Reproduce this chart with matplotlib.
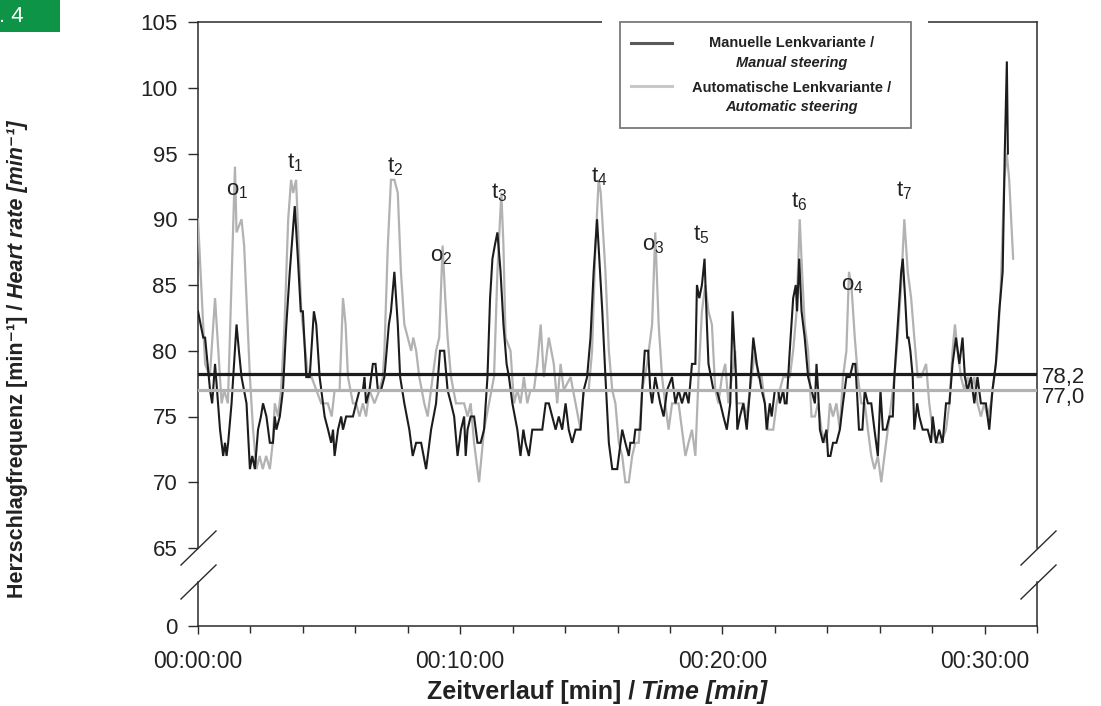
import matplotlib
matplotlib.use("Agg")
import matplotlib.pyplot as plt
from matplotlib.patches import Rectangle
from matplotlib.lines import Line2D
from matplotlib.ticker import MultipleLocator, FuncFormatter
import matplotlib.transforms as mtransforms

plt.rcParams['font.family'] = ['Liberation Sans', 'DejaVu Sans']
plt.rcParams['mathtext.default'] = 'regular'

# ---------------- data ----------------
t_auto = [0, 0.27, 0.45, 0.65, 0.9, 1.0, 1.14, 1.41, 1.47, 1.66, 1.76, 1.98, 2.1, 2.23, 2.35, 2.47,
          2.6, 2.74, 2.85, 2.93, 3.05, 3.17, 3.3, 3.44, 3.55, 3.63, 3.74, 3.94, 4.2, 4.33, 4.7, 4.95,
          5.1, 5.21, 5.4, 5.53, 5.63, 5.72, 5.91, 6.03, 6.16, 6.29, 6.41, 6.54, 6.73, 6.92, 7.05, 7.11,
          7.24, 7.36, 7.49, 7.62, 7.74, 7.87, 8.0, 8.13, 8.21, 8.32, 8.44, 8.63, 8.76, 8.82, 9.08, 9.2,
          9.33, 9.43, 9.52, 9.65, 9.84, 10.15, 10.28, 10.4, 10.53, 10.72, 10.91, 11.1, 11.29, 11.42,
          11.57, 11.65, 11.73, 11.92, 12.05, 12.18, 12.3, 12.43, 12.56, 12.68, 12.81, 12.94, 13.07,
          13.19, 13.38, 13.57, 13.7, 13.83, 13.95, 14.21, 14.4, 14.59, 14.71, 14.9, 15.03, 15.16,
          15.28, 15.36, 15.54, 15.67, 15.8, 15.92, 16.05, 16.18, 16.3, 16.43, 16.56, 16.68, 16.81,
          16.87, 16.94, 17.13, 17.32, 17.44, 17.57, 17.7, 17.82, 17.95, 18.08, 18.21, 18.33, 18.46,
          18.59, 18.71, 18.84, 18.97, 19.09, 19.22, 19.35, 19.47, 19.6, 19.73, 19.85, 19.98, 20.11,
          20.23, 20.36, 20.49, 20.55, 20.67, 20.8, 20.93, 21.05, 21.18, 21.24, 21.37, 21.5, 21.62,
          21.75, 21.94, 22.07, 22.19, 22.32, 22.45, 22.57, 22.7, 22.83, 22.95, 23.04, 23.14, 23.27,
          23.4, 23.53, 23.65, 23.78, 23.91, 24.03, 24.1, 24.22, 24.35, 24.48, 24.6, 24.73, 24.83,
          24.92, 25.05, 25.17, 25.3, 25.43, 25.55, 25.68, 25.8, 25.93, 26.06, 26.18, 26.31, 26.44,
          26.56, 26.69, 26.82, 26.94, 27.07, 27.2, 27.32, 27.45, 27.58, 27.77, 27.89, 28.02, 28.15,
          28.34, 28.53, 28.66, 28.78, 28.87, 28.97, 29.1, 29.23, 29.35, 29.48, 29.61, 29.73, 29.86,
          29.99, 30.11, 30.24, 30.37, 30.49, 30.62, 30.75, 30.85, 30.94, 31.09]
hr_auto = [90, 79, 78, 84, 76, 77, 76, 94, 89, 90, 88, 78, 74, 71, 72, 71,
           72, 71, 73, 76, 75, 77, 82, 90, 93, 92, 93, 83, 78, 78, 76, 76,
           75, 77, 77, 84, 82, 78, 76, 76, 75, 76, 75, 77, 76, 77, 78, 80,
           88, 93, 93, 92, 86, 82, 81, 80, 81, 80, 78, 76, 75, 76, 80, 81,
           88, 84, 81, 78, 76, 76, 75, 76, 73, 70, 74, 76, 78, 86,
           92, 88, 81, 80, 76, 77, 76, 78, 76, 77, 77, 79, 82,
           78, 81, 79, 76, 79, 77, 78, 76, 74, 77, 77, 80, 88,
           93, 92, 86, 80, 77, 76, 73, 72, 70, 70, 72, 73, 73,
           75, 77, 79, 82, 89, 82, 78, 76, 74, 76, 76, 76, 74,
           72, 73, 74, 72, 78, 83, 85, 83, 82, 77, 76, 78, 79,
           76, 78, 80, 76, 76, 76, 75, 77, 79, 80, 78, 78, 76,
           74, 74, 76, 77, 78, 78, 78, 80, 83, 90, 86, 82, 80,
           75, 75, 76, 74, 73, 74, 76, 75, 76, 74, 78, 80, 86,
           85, 81, 78, 76, 76, 74, 72, 71, 72, 70, 72, 74, 76,
           78, 81, 85, 90, 86, 84, 81, 78, 78, 79, 76, 74, 73,
           73, 74, 76, 80, 82, 80, 78, 77, 78, 77, 78, 76, 75,
           76, 75, 76, 78, 80, 85, 93, 95, 93, 87]

t_manual = [0, 0.2, 0.27, 0.46, 0.54, 0.65, 0.84, 0.96, 1.03, 1.09, 1.15, 1.28, 1.47, 1.56, 1.66,
            1.85, 1.98, 2.07, 2.17, 2.29, 2.4, 2.48, 2.61, 2.74, 2.86, 2.93, 2.99, 3.12, 3.24, 3.37,
            3.5, 3.69, 3.81, 3.92, 4.0, 4.13, 4.26, 4.42, 4.51, 4.64, 4.83, 4.96, 5.08, 5.15, 5.21,
            5.34, 5.46, 5.53, 5.65, 5.78, 5.91, 6.03, 6.16, 6.29, 6.35, 6.41, 6.54, 6.67, 6.77, 6.86,
            6.98, 7.11, 7.28, 7.36, 7.49, 7.62, 7.71, 7.87, 8.06, 8.19, 8.32, 8.51, 8.7, 8.89, 9.08,
            9.23, 9.39, 9.52, 9.65, 9.77, 9.9, 10.03, 10.15, 10.21, 10.28, 10.4, 10.53, 10.66, 10.78,
            10.91, 11.04, 11.14, 11.23, 11.32, 11.42, 11.54, 11.65, 11.77, 11.86, 11.99, 12.18, 12.3,
            12.41, 12.49, 12.62, 12.75, 13.13, 13.26, 13.38, 13.51, 13.64, 13.76, 13.89, 14.02, 14.14,
            14.27, 14.4, 14.59, 14.71, 14.84, 14.97, 15.09, 15.22, 15.42, 15.54, 15.67, 15.8, 15.99,
            16.18, 16.3, 16.43, 16.49, 16.62, 16.68, 16.87, 16.94, 17.04, 17.17, 17.25, 17.32, 17.44,
            17.63, 17.76, 17.89, 18.08, 18.21, 18.33, 18.46, 18.59, 18.71, 18.84, 18.97, 19.03, 19.12,
            19.22, 19.32, 19.41, 19.47, 19.66, 19.79, 19.92, 20.04, 20.17, 20.3, 20.39, 20.52, 20.57,
            20.67, 20.8, 20.93, 21.05, 21.18, 21.31, 21.41, 21.5, 21.62, 21.69, 21.81, 21.88, 22.0,
            22.13, 22.19, 22.32, 22.38, 22.45, 22.51, 22.57, 22.7, 22.8, 22.85, 22.93, 23.02, 23.14,
            23.27, 23.4, 23.53, 23.59, 23.65, 23.72, 23.84, 23.97, 24.03, 24.12, 24.22, 24.35, 24.48,
            24.6, 24.73, 24.86, 24.98, 25.07, 25.13, 25.21, 25.34, 25.43, 25.55, 25.68, 25.8, 25.93,
            25.99, 26.03, 26.12, 26.25, 26.37, 26.5, 26.56, 26.69, 26.82, 26.88, 26.97, 27.05, 27.1,
            27.17, 27.26, 27.32, 27.43, 27.51, 27.64, 27.83, 27.96, 28.02, 28.15, 28.27, 28.4, 28.53,
            28.66, 28.78, 28.91, 29.04, 29.16, 29.25, 29.35, 29.48, 29.61, 29.73, 29.86, 30.05, 30.18,
            30.3, 30.43, 30.56, 30.69, 30.77, 30.85, 30.89]
hr_manual = [83, 81, 81, 77, 76, 79, 74, 72, 73, 72, 73, 76, 82, 80, 78,
             76, 71, 72, 71, 74, 75, 76, 75, 73, 73, 75, 74, 75, 77, 82,
             86, 91, 87, 83, 83, 78, 78, 83, 82, 78, 75, 74, 73, 74, 72,
             74, 75, 74, 75, 75, 75, 76, 77, 77, 78, 76, 77, 79, 79, 77,
             77, 78, 82, 83, 86, 82, 78, 76, 74, 72, 73, 73, 71, 74, 76,
             80, 80, 77, 76, 75, 72, 74, 75, 72, 74, 75, 75, 73, 73,
             74, 78, 84, 87, 88, 89, 86, 82, 79, 78, 76, 74, 72,
             74, 73, 72, 74, 74, 76, 76, 75, 74, 75, 74, 76, 74,
             73, 74, 74, 77, 78, 81, 86, 90, 83, 78, 73, 71, 71,
             74, 73, 72, 73, 73, 74, 74, 77, 80, 80, 77, 76, 78,
             76, 75, 77, 78, 76, 77, 76, 77, 76, 79, 79, 85, 84,
             85, 87, 82, 79, 77, 77, 76, 75, 74, 76, 83, 78, 74,
             75, 76, 74, 77, 81, 79, 78, 77, 76, 74, 76, 75, 77,
             77, 76, 77, 76, 76, 78, 80, 84, 85, 83, 87, 83, 81,
             78, 77, 76, 79, 77, 74, 73, 74, 72, 72, 73, 73, 74,
             76, 78, 78, 79, 79, 77, 74, 74, 77, 76, 76, 74, 72,
             75, 77, 74, 74, 75, 75, 78, 82, 86, 87, 84, 81, 81,
             80, 78, 74, 76, 75, 74, 74, 73, 75, 73, 74, 73, 76,
             76, 79, 81, 79, 81, 78, 77, 78, 76, 78, 76, 76, 74,
             77, 79, 83, 86, 95, 102, 95]

mean_manual = 78.2
mean_auto = 77.0
mean_labels = ["78,2", "77,0"]

y_ticks = [65, 70, 75, 80, 85, 90, 95, 100, 105]

peak_labels = ["o", "t", "t", "o", "t", "t", "o", "t", "t", "o", "t"]
peak_index = [1, 1, 2, 2, 3, 4, 3, 5, 6, 4, 7]
peak_t = [1.48, 3.72, 7.52, 9.27, 11.48, 15.31, 17.37, 19.2, 22.93, 24.95, 26.92]
peak_y = [92.2, 94.3, 94.0, 87.2, 92.0, 93.2, 88.0, 88.8, 91.3, 85.0, 92.2]

legend_de = ["Manuelle Lenkvariante /", "Automatische Lenkvariante /"]
legend_en = ["Manual steering", "Automatic steering"]

xlabel_parts = ["Zeitverlauf [min] /", "Time [min]"]
ylabel_parts = ["Herzschlagfrequenz [min\u207b\u00b9] /", "Heart rate [min\u207b\u00b9]"]

# ---------------- figure ----------------
W, H = 1101, 706
fig = plt.figure(figsize=(W / 100, H / 100), dpi=100)
fig.patch.set_facecolor('white')


def fx(x):
    return x / W


def fy(y):
    return 1 - y / H


C_BLACK = '#1c1c1c'
C_GRAY = '#b2b2b2'
C_SPINE = '#2a2a2a'
C_TEXT = '#222222'

ax = fig.add_axes([fx(198), fy(548), (1037 - 198) / W, (548 - 22) / H])
ax2 = fig.add_axes([fx(198), fy(626), (1037 - 198) / W, (626 - 582) / H])

for a in (ax, ax2):
    a.set_xlim(0, 32)
    for s in a.spines.values():
        s.set_color(C_SPINE)
        s.set_linewidth(1.1)
    a.tick_params(axis='both', which='both', direction='out', color=C_SPINE,
                  labelsize=16, labelcolor=C_TEXT, width=1.0)
    a.tick_params(axis='y', length=7, pad=8)

ax.set_ylim(65, 105)
ax.set_yticks(y_ticks)
ax.spines['bottom'].set_visible(False)
ax.tick_params(axis='x', which='both', bottom=False, labelbottom=False)

ax2.set_ylim(0, 1)
ax2.set_yticks([0])
ax2.spines['top'].set_visible(False)
ax2.patch.set_visible(False)
ax2.xaxis.set_major_locator(MultipleLocator(10))
ax2.xaxis.set_minor_locator(MultipleLocator(2))
ax2.xaxis.set_major_formatter(FuncFormatter(lambda m, _: f"{int(m // 60):02d}:{int(m % 60):02d}:00"))
ax2.tick_params(axis='x', which='major', length=6, pad=11, labelsize=16.5)
ax2.tick_params(axis='x', which='minor', length=5)

# series
ax.plot(t_auto, hr_auto, color=C_GRAY, lw=1.6, zorder=3, solid_joinstyle='miter')
ax.plot(t_manual, hr_manual, color=C_BLACK, lw=1.5, zorder=4, solid_joinstyle='miter')

# mean lines
ax.axhline(mean_manual, color=C_BLACK, lw=2.3, zorder=5)
ax.axhline(mean_auto, color=C_GRAY, lw=2.3, zorder=5)
blend = mtransforms.blended_transform_factory(ax.transAxes, ax.transData)
off1 = mtransforms.ScaledTranslation(0, -6.2 / 72, fig.dpi_scale_trans)
off2 = mtransforms.ScaledTranslation(0, -9.4 / 72, fig.dpi_scale_trans)
ax.text(1.006, mean_manual, mean_labels[0], transform=blend + off1, ha='left', va='baseline',
        fontsize=16, color=C_TEXT, clip_on=False)
ax.text(1.006, mean_auto, mean_labels[1], transform=blend + off2, ha='left', va='baseline',
        fontsize=16, color=C_TEXT, clip_on=False)

# peak annotations
for lab, idx, xt, yt in zip(peak_labels, peak_index, peak_t, peak_y):
    ax.text(xt, yt, f"{lab}$_{{{idx}}}$", ha='center', va='center', fontsize=16,
            color=C_TEXT, zorder=6)

# axis break marks
for (x0, y0, x1, y1) in [(181, 565, 216, 531), (181, 599, 216, 565),
                         (1021, 565, 1056, 531), (1021, 599, 1056, 565)]:
    fig.add_artist(Line2D([fx(x0), fx(x1)], [fy(y0), fy(y1)], color=C_SPINE, lw=1.0,
                          transform=fig.transFigure, zorder=10))

# legend (white cover over top spine + framed box)
fig.add_artist(Rectangle((fx(602), fy(131)), (928 - 602) / W, (131 - 8) / H,
                         transform=fig.transFigure, facecolor='white', edgecolor='none', zorder=10))
fig.add_artist(Rectangle((fx(620), fy(128)), (911 - 620) / W, (128 - 22) / H,
                         transform=fig.transFigure, facecolor='white', edgecolor='#7a7a7a',
                         lw=1.3, zorder=11))
fig.add_artist(Line2D([fx(631), fx(672)], [fy(43), fy(43)], color='#5a5a5a', lw=2.2,
                      transform=fig.transFigure, zorder=12))
fig.add_artist(Line2D([fx(631), fx(672)], [fy(86), fy(86)], color='#c8c8c8', lw=2.2,
                      transform=fig.transFigure, zorder=12))
for (de, en, yde, yen) in [(legend_de[0], legend_en[0], 43, 63), (legend_de[1], legend_en[1], 88, 107)]:
    fig.text(fx(792), fy(yde), de, ha='center', va='center', fontsize=10.5, fontweight='bold',
             color=C_TEXT, zorder=12)
    fig.text(fx(792), fy(yen), en, ha='center', va='center', fontsize=10.5, fontweight='bold',
             fontstyle='italic', color=C_TEXT, zorder=12)

# axis labels (two styles each, placed side by side after measuring)
renderer = fig.canvas.get_renderer()
GAP = 6  # px

xl1 = fig.text(0, fy(692), xlabel_parts[0], ha='left', va='center', fontsize=18,
               fontweight='bold', color=C_TEXT)
xl2 = fig.text(0, fy(692), xlabel_parts[1], ha='left', va='center', fontsize=18,
               fontweight='bold', fontstyle='italic', color=C_TEXT)
w1 = xl1.get_window_extent(renderer).width
w2 = xl2.get_window_extent(renderer).width
x_start = 597 - (w1 + GAP + w2) / 2
xl1.set_x(fx(x_start))
xl2.set_x(fx(x_start + w1 + GAP))

yl1 = fig.text(fx(18), 0, ylabel_parts[0], rotation=90, rotation_mode='anchor',
               ha='left', va='center', fontsize=15.5, fontweight='bold', color=C_TEXT)
yl2 = fig.text(fx(18), 0, ylabel_parts[1], rotation=90, rotation_mode='anchor',
               ha='left', va='center', fontsize=15.5, fontweight='bold', fontstyle='italic',
               color=C_TEXT)
h1 = yl1.get_window_extent(renderer).height
h2 = yl2.get_window_extent(renderer).height
y_bottom = 359 + (h1 + GAP + h2) / 2
yl1.set_y(fy(y_bottom))
yl2.set_y(fy(y_bottom - h1 - GAP))

# figure tag
fig.add_artist(Rectangle((0, fy(32)), 60 / W, 32 / H, transform=fig.transFigure,
                         facecolor='#0e9447', edgecolor='none', zorder=10))
fig.text(fx(-1), fy(16), ". 4", ha='left', va='center', fontsize=16, color='white', zorder=11)

fig.savefig("out.png", dpi=100, facecolor='white')
